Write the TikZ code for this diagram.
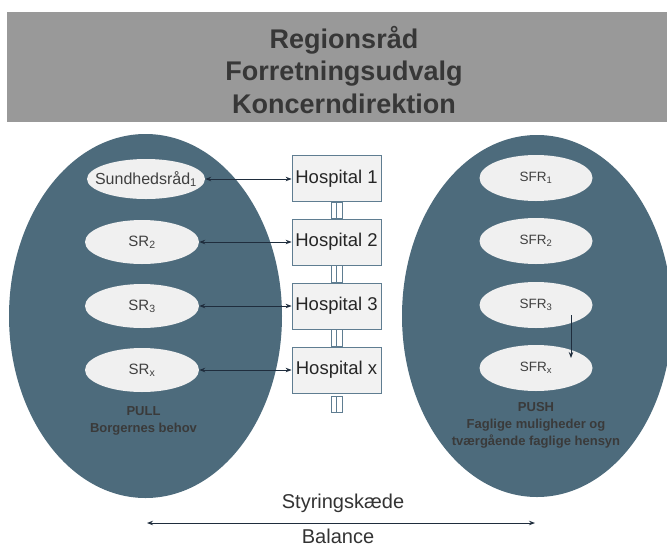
\documentclass[tikz,border=0pt]{standalone}
\usepackage{fontspec}
\setmainfont{Liberation Sans}
\usetikzlibrary{calc,arrows.meta,shapes.geometric}
\definecolor{bandgray}{RGB}{153,153,153}
\definecolor{titletext}{RGB}{55,55,55}
\definecolor{slate}{RGB}{77,107,124}
\definecolor{lightfill}{RGB}{240,240,240}
\definecolor{boxfill}{RGB}{242,242,242}
\definecolor{boxline}{RGB}{95,125,145}
\definecolor{navy}{RGB}{31,45,61}
\definecolor{innertext}{RGB}{64,64,64}
\definecolor{labeltext}{RGB}{58,58,58}
\begin{document}
\begin{tikzpicture}[x=1pt,y=-1pt,
  bigell/.style={ellipse, fill=slate, draw=none, inner sep=0pt},
  smallell/.style={ellipse, fill=lightfill, draw=none, minimum width=114pt, minimum height=44pt, inner sep=0pt, text=innertext, font=\fontsize{15}{18}\selectfont},
  sfrell/.style={ellipse, fill=lightfill, draw=none, minimum width=113pt, minimum height=46pt, inner sep=0pt, text=innertext, font=\fontsize{13.5}{16}\selectfont},
  hospbox/.style={rectangle, fill=boxfill, draw=boxline, line width=0.8pt, minimum width=89pt, minimum height=46pt, inner sep=0pt, text=black!85, font=\fontsize{18.5}{22}\selectfont},
  linkbar/.style={fill=white, draw=boxline, line width=0.8pt},
  biarrow/.style={navy, line width=0.9pt, {Stealth[length=6pt,width=4.5pt]}-{Stealth[length=6pt,width=4.5pt]}},
  onearrow/.style={navy, line width=0.9pt, -{Stealth[length=6pt,width=4.5pt]}},
  boldlabel/.style={text=labeltext, font=\bfseries\fontsize{13}{17}\selectfont, align=center, inner sep=0pt},
  bottomlabel/.style={text=black!80, font=\fontsize{20}{24}\selectfont, inner sep=0pt}
]
\useasboundingbox (0,0) rectangle (667,547);
\begin{scope}
\clip (0,0) rectangle (667,547);
% header band
\fill[bandgray] (7,12) rectangle (670,122);
\node[text=titletext, font=\bfseries\fontsize{27}{32.5}\selectfont, align=center] (title) at (344,70)
  {Regionsråd\\Forretningsudvalg\\Koncerndirektion};
% big ellipses
\node[bigell, minimum width=273pt, minimum height=364pt] (pull) at (145.5,316) {};
\node[bigell, minimum width=270pt, minimum height=362pt] (push) at (537,316) {};
\end{scope}
% left small ellipses
\node[smallell, minimum width=118pt, minimum height=40pt,
  label={[text=innertext, font=\fontsize{16}{18}\selectfont, inner sep=0pt]center:Sundhedsråd\textsubscript{1}}] (sr1) at (146,179) {};
\node[smallell] (sr2) at (142,242) {SR\textsubscript{2}};
\node[smallell] (sr3) at (142,306) {SR\textsubscript{3}};
\node[smallell] (srx) at (142,370) {SR\textsubscript{x}};
% hospitals
\node[hospbox] (h1) at (336.5,178.5) {Hospital 1};
\node[hospbox] (h2) at (336.5,242) {Hospital 2};
\node[hospbox] (h3) at (336.5,306) {Hospital 3};
\node[hospbox] (hx) at (336.5,370) {Hospital x};
% link bars
\draw[linkbar] ($(h1.south)+(-5.5,0)$) rectangle (h2.north);
\draw[linkbar] (h1.south) rectangle ($(h2.north)+(5.5,0)$);
\draw[linkbar] ($(h2.south)+(-5.5,0)$) rectangle (h3.north);
\draw[linkbar] (h2.south) rectangle ($(h3.north)+(5.5,0)$);
\draw[linkbar] ($(h3.south)+(-5.5,0)$) rectangle (hx.north);
\draw[linkbar] (h3.south) rectangle ($(hx.north)+(5.5,0)$);
\draw[linkbar] ($(hx.south)+(-5.5,3)$) rectangle ($(hx.south)+(0,19)$);
\draw[linkbar] ($(hx.south)+(0,3)$) rectangle ($(hx.south)+(5.5,19)$);
% arrows left
\draw[biarrow] (sr1.east) -- (sr1.east -| h1.west);
\draw[biarrow] (sr2.east) -- (h2.west);
\draw[biarrow] (sr3.east) -- (h3.west);
\draw[biarrow] (srx.east) -- (hx.west);
% right ellipses
\node[sfrell] (sfr1) at (536,178) {SFR\textsubscript{1}};
\node[sfrell] (sfr2) at (536,241) {SFR\textsubscript{2}};
\node[sfrell] (sfr3) at (536,305) {SFR\textsubscript{3}};
\node[sfrell] (sfrx) at (536,368) {SFR\textsubscript{x}};
\coordinate (pa) at (571,315);
\coordinate (pb) at (571,358);
\draw[onearrow] (pa) -- (pb);
% labels
\node[boldlabel] (pulltext) at (143.5,420.5) {PULL\\Borgernes behov};
\node[boldlabel] (pushtext) at (536,425) {PUSH\\Faglige muligheder og\\tværgående faglige hensyn};
% bottom
\node[bottomlabel] (styr) at (343,503) {Styringskæde};
\node[bottomlabel] (bal) at (338,536) {Balance};
\coordinate (bl) at (147,523);
\coordinate (br) at (535,523);
\draw[biarrow] (bl) -- (br);
\end{tikzpicture}
\end{document}
